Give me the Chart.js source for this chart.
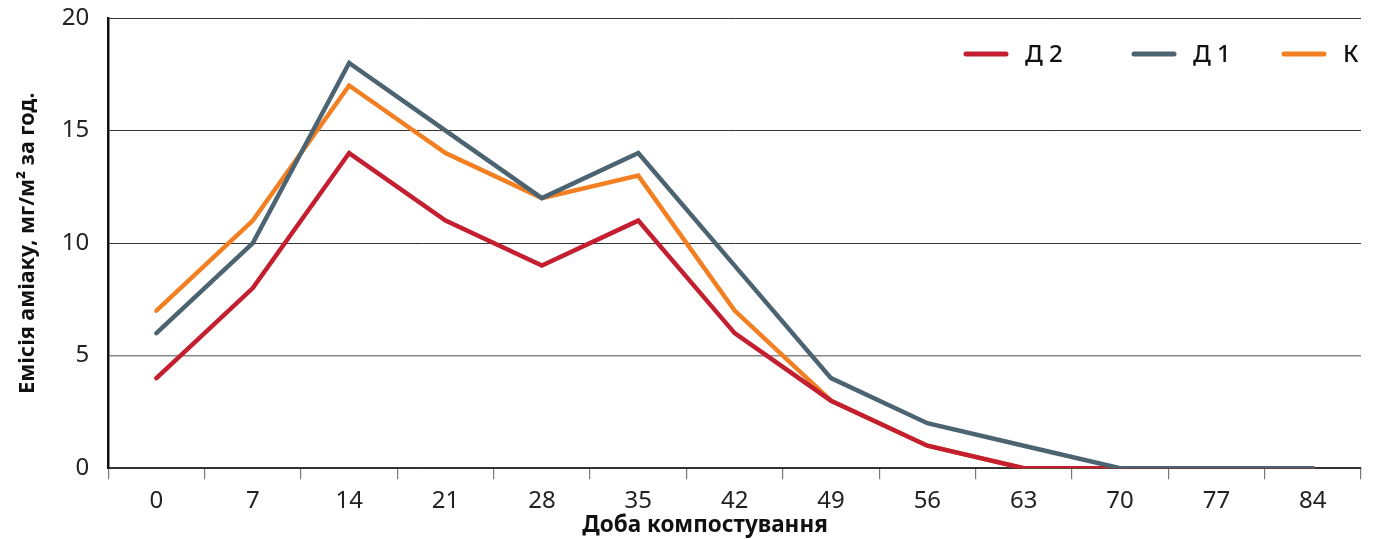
<!DOCTYPE html>
<html>
<head>
<meta charset="utf-8">
<script src="https://cdn.jsdelivr.net/npm/chart.js@4/dist/chart.umd.min.js"></script>
<style>
  html, body { margin: 0; padding: 0; background: #fff; }
  #wrap { width: 1373px; height: 539px; }
</style>
</head>
<body>
<div id="wrap"><canvas id="chart"></canvas></div>
<script>
const days = ['0', '7', '14', '21', '28', '35', '42', '49', '56', '63', '70', '77', '84'];
const d2 = [4, 8, 14, 11, 9, 11, 6, 3, 1, 0, 0, 0, 0];
const d1 = [6, 10, 18, 15, 12, 14, 9, 4, 2, 1, 0, 0, 0];
const k = [7, 11, 17, 14, 12, 13, 7, 3, 1, 0, 0, 0, 0];
const seriesNames = ['Д 2', 'Д 1', 'К'];
const seriesColors = ['#c41f30', '#4c6472', '#f28022'];
const xTitle = 'Доба компостування';

// legend inside the plot (top right) + x title, which sits a bit left of centre
const extras = {
  id: 'extras',
  afterDraw(chart) {
    const ctx = chart.ctx;
    const xs = [966, 1134, 1284];
    const y = 54;
    ctx.save();
    chart.data.datasets.forEach((ds, i) => {
      ctx.strokeStyle = ds.borderColor;
      ctx.lineWidth = 5;
      ctx.lineCap = 'round';
      ctx.beginPath();
      ctx.moveTo(xs[i], y); ctx.lineTo(xs[i] + 40, y);
      ctx.stroke();
      ctx.fillStyle = '#111';
      ctx.font = '500 24px "Noto Sans"';
      ctx.textBaseline = 'middle';
      ctx.fillText(ds.label, xs[i] + 59, y + 1);
    });
    ctx.font = 'bold 22.5px "Noto Sans"';
    ctx.textAlign = 'center';
    ctx.textBaseline = 'alphabetic';
    ctx.fillText(xTitle, 705, 532);
    ctx.restore();
  }
};

new Chart(document.getElementById('chart'), {
  type: 'line',
  data: {
    labels: days,
    datasets: [
      { label: seriesNames[0], data: d2, borderColor: seriesColors[0], order: 2 },
      { label: seriesNames[1], data: d1, borderColor: seriesColors[1], order: 1 },
      { label: seriesNames[2], data: k, borderColor: seriesColors[2], order: 3 }
    ]
  },
  options: {
    responsive: true,
    maintainAspectRatio: false,
    animation: false,
    layout: { padding: { top: 18, right: 12, left: 15, bottom: 15 } },
    elements: {
      line: { borderWidth: 4.5, tension: 0, borderCapStyle: 'round', borderJoinStyle: 'miter', fill: false },
      point: { radius: 0 }
    },
    plugins: { legend: { display: false }, tooltip: { enabled: false } },
    scales: {
      x: {
        offset: true,
        grid: { offset: true, drawOnChartArea: false, tickLength: 11, color: '#777', lineWidth: 1.2 },
        border: { color: '#333', width: 1.5 },
        ticks: { color: '#222', font: { family: 'Noto Sans', size: 24 }, padding: 8 }
      },
      y: {
        min: 0, max: 20,
        afterFit: s => { s.paddingTop = 0; },
        grid: {
          drawTicks: false,
          color: c => c.tick.value === 5 ? '#888' : '#333',
          lineWidth: c => c.tick.value === 5 ? 1.6 : 1
        },
        border: { color: '#111', width: 2.5 },
        ticks: { stepSize: 5, color: '#222', font: { family: 'Noto Sans', size: 24 }, padding: 19 },
        title: { display: true, text: 'Емісія аміаку, мг/м² за год.', color: '#111', font: { family: 'Noto Sans', size: 21.5, weight: 'bold' }, padding: { top: 0, bottom: 2 } }
      }
    }
  },
  plugins: [extras]
});
</script>
</body>
</html>
